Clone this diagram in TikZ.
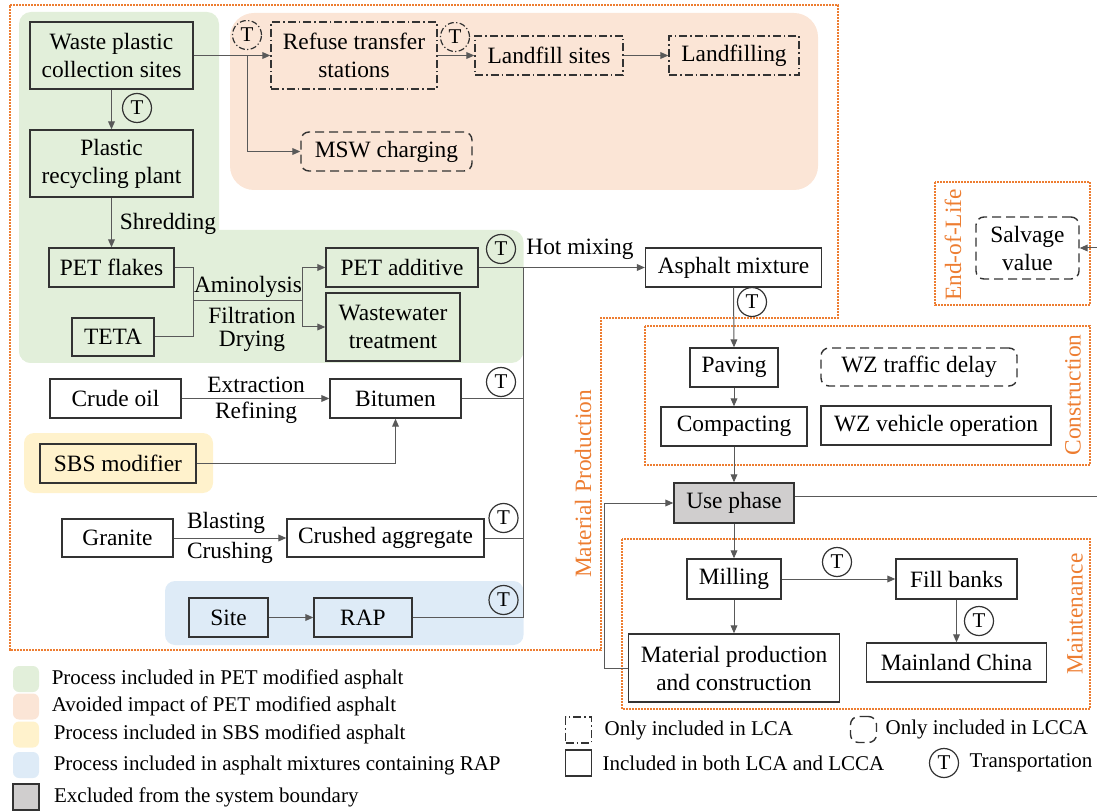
\documentclass[tikz,border=0pt]{standalone}
\usepackage{fontspec}
\setmainfont{Liberation Serif}
\usetikzlibrary{positioning,arrows.meta}
\definecolor{petgreen}{HTML}{E2EFDA}
\definecolor{avoidpink}{HTML}{FBE5D6}
\definecolor{sbsyellow}{HTML}{FFF2CC}
\definecolor{rapblue}{HTML}{DEEBF7}
\definecolor{exgray}{HTML}{D0CECE}
\definecolor{bound}{HTML}{ED7D31}
\tikzset{
  box/.style={draw=black!80, line width=0.7pt, inner sep=0pt, align=center},
  lcabox/.style={box, dash pattern=on 4pt off 1.5pt on 0.8pt off 1.5pt},
  lccabox/.style={box, rounded corners=4pt, dash pattern=on 4.5pt off 2.5pt},
  tc/.style={circle, draw=black!80, line width=0.6pt, minimum size=14.5pt, inner sep=0pt, font=\fontsize{10.5}{12}\selectfont},
  tlca/.style={tc, dash pattern=on 3pt off 1.2pt on 0.6pt off 1.2pt},
  conn/.style={draw=black!65, line width=0.5pt},
  bnd/.style={draw=bound, line width=1.1pt, dash pattern=on 0.9pt off 0.6pt},
  phase/.style={text=bound, rotate=90},
  legtext/.style={inner sep=0pt, font=\fontsize{10.5}{12}\selectfont},
  legsq/.style={minimum width=13pt, minimum height=13pt, inner sep=0pt}
}

\begin{document}
\begin{tikzpicture}[x=0.5pt, y=-0.5pt, >={Triangle[length=4pt,width=3.4pt]}, font=\fontsize{11.7}{14}\selectfont]
    \useasboundingbox (0,0) rectangle (1097,812);

    % coloured groups
    \fill[avoidpink, rounded corners=12pt] (230,13) rectangle (818,190);
    \fill[petgreen, rounded corners=6pt] (19,12) rectangle (219,363);
    \fill[petgreen, rounded corners=6pt] (19,230) rectangle (523.5,363);
    \fill[sbsyellow, rounded corners=5pt] (24,433) rectangle (213,493);
    \fill[rapblue, rounded corners=5pt] (165,581) rectangle (523.5,645);

    % stage boundaries
    \draw[bnd] (10,5) -- (838,5) -- (838,318) -- (601,318) -- (601,650) -- (10,650) -- cycle;
    \draw[bnd] (645,326) rectangle (1090,465);
    \draw[bnd] (622,539) rectangle (1090,709);
    \draw[bnd] (935,182) rectangle (1090,305);
    \node[phase] (lmat) at (583,484) {Material Production};
    \node[phase] (lcon) at (1073,395) {Construction};
    \node[phase] (lmnt) at (1075,614) {Maintenance};
    \node[phase] (leol) at (953,245) {End-of-Life};

    % PET route
    \node[box, minimum width=81.5pt, minimum height=33.5pt] (waste) at (111.5,55.5) {Waste plastic\\collection sites};
    \node[box, minimum width=81.5pt, minimum height=33.5pt] (plant) at (111.5,163.5) {Plastic\\recycling plant};
    \node[box, minimum width=62.5pt, minimum height=19.5pt] (flakes) at (111.5,267.5) {PET flakes};
    \node[box, minimum width=41pt, minimum height=19pt] (teta) at (113,337) {TETA};
    \node[box, minimum width=76pt, minimum height=19.5pt] (additive) at (402,267.5) {PET additive};
    \node[box, minimum width=67pt, minimum height=34pt] (water) at (393,327) {Wastewater\\treatment};

    % avoided landfill route
    \node[lcabox, minimum width=83pt, minimum height=33.5pt] (refuse) at (354,55.5) {Refuse transfer\\stations};
    \node[lcabox, minimum width=74pt, minimum height=19.5pt] (sites) at (549,55.5) {Landfill sites};
    \node[lcabox, minimum width=65pt, minimum height=19.5pt] (landfill) at (734,55.5) {Landfilling};
    \node[lccabox, minimum width=85.5pt, minimum height=19.5pt] (msw) at (386.5,151.5) {MSW charging};

    % other materials
    \node[box, minimum width=88pt, minimum height=19.5pt] (mix) at (733.5,267.5) {Asphalt mixture};
    \node[box, minimum width=65.5pt, minimum height=19.5pt] (crude) at (115.5,398.5) {Crude oil};
    \node[box, minimum width=65.5pt, minimum height=19.5pt] (bit) at (395.5,398.5) {Bitumen};
    \node[box, minimum width=78pt, minimum height=19.5pt] (sbs) at (118,463.5) {SBS modifier};
    \node[box, minimum width=55.5pt, minimum height=19pt] (gran) at (117.5,538) {Granite};
    \node[box, minimum width=98.5pt, minimum height=19pt] (agg) at (385.5,538) {Crushed aggregate};
    \node[box, minimum width=39.5pt, minimum height=19.5pt] (site) at (228.5,617.5) {Site};
    \node[box, minimum width=49pt, minimum height=19.5pt] (rap) at (363,617.5) {RAP};

    % construction, use, maintenance, end of life
    \node[box, minimum width=44pt, minimum height=19.5pt] (pave) at (734,367.5) {Paving};
    \node[lccabox, minimum width=98pt, minimum height=19pt] (delay) at (919,367) {WZ traffic delay};
    \node[box, minimum width=73pt, minimum height=19.5pt] (comp) at (734,426.5) {Compacting};
    \node[box, minimum width=115pt, minimum height=19.5pt] (veh) at (936,425.5) {WZ vehicle operation};
    \node[box, fill=exgray, minimum width=60pt, minimum height=20pt] (use) at (734,503) {Use phase};
    \node[box, minimum width=47pt, minimum height=20pt] (mill) at (734,579) {Milling};
    \node[box, minimum width=60.5pt, minimum height=20pt] (banks) at (956.5,579) {Fill banks};
    \node[box, minimum width=90pt, minimum height=19.5pt] (china) at (956.5,662.5) {Mainland China};
    \node[box, minimum width=105.5pt, minimum height=34pt] (mpc) at (734,668) {Material production\\and construction};
    \node[lccabox, minimum width=51.5pt, minimum height=31pt] (salv) at (1027.5,248) {Salvage\\value};

    % transportation marks
    \node[tc] (t1) at (137,108) {T};
    \node[tlca] (t2) at (247,35) {T};
    \node[tlca] (t3) at (455,37) {T};
    \node[tc] (t4) at (501,249) {T};
    \node[tc] (t5) at (501,382) {T};
    \node[tc] (t6) at (503.5,518) {T};
    \node[tc] (t7) at (503.5,600) {T};
    \node[tc] (t8) at (752,302) {T};
    \node[tc] (t9) at (837,562) {T};
    \node[tc] (t10) at (979,621) {T};

    % process labels
    \node (lshr) at (168,224) {Shredding};
    \node (lami) at (248,287) {Aminolysis};
    \node (lfil) at (252,315) {Filtration};
    \node (ldry) at (252,341) {Drying};
    \node (lhot) at (580,249) {Hot mixing};
    \node (lext) at (256,385) {Extraction};
    \node (lref) at (256,413) {Refining};
    \node (lbla) at (226,523) {Blasting};
    \node (lcru) at (230,553) {Crushing};

    \coordinate (amj) at (193,301);
    \coordinate (amk) at (302,301);
    \coordinate (br) at (247,55.5);
    \coordinate (col) at (523.5,267.5);
    \coordinate (colb) at (523.5,617.5);
    \coordinate (fb) at (604,668);
    \coordinate (eolr) at (1097,496);
    \coordinate (eols) at (1097,248);

    \draw[conn, ->] (waste) -- (plant);
    \draw[conn, ->] (plant) -- (flakes);
    \draw[conn] (flakes.east) -| (amj) -- (amk);
    \draw[conn] (teta.east) -| (amj);
    \draw[conn, ->] (amk) |- (additive.west);
    \draw[conn, ->] (amk) |- (water.west);
    \draw[conn, ->] (waste.east) -- (refuse.west);
    \draw[conn, ->] (br) |- (msw.west);
    \draw[conn, ->] (refuse) -- (sites);
    \draw[conn, ->] (sites) -- (landfill);
    \draw[conn, ->] (additive) -- (mix);
    \draw[conn] (col) -- (colb);
    \draw[conn, ->] (crude) -- (bit);
    \draw[conn] (bit.east) -- (bit.east -| col);
    \draw[conn, ->] (sbs.east) -| (bit.south);
    \draw[conn, ->] (gran) -- (agg);
    \draw[conn] (agg.east) -- (agg.east -| col);
    \draw[conn, ->] (site) -- (rap);
    \draw[conn] (rap.east) -- (colb);

    \draw[conn, ->] (mix.south) -- (pave.north);
    \draw[conn, ->] (pave) -- (comp);
    \draw[conn, ->] (comp) -- (use);
    \draw[conn, ->] (use) -- (mill);
    \draw[conn, ->] (mill) -- (mpc);
    \draw[conn, ->] (mill) -- (banks);
    \draw[conn, ->] (banks) -- (china);
    \draw[conn, ->] (mpc.west) -- (fb) |- (use.west);
    \draw[conn] (use.east |- eolr) -- (eolr);
    \draw[conn, ->] (eols) -- (salv.east);

    % legend
    \node[legsq, fill=petgreen, rounded corners=3pt] (sq1) at (26,679) {};
    \node[legsq, fill=avoidpink, rounded corners=3pt] (sq2) at (26,706.5) {};
    \node[legsq, fill=sbsyellow, rounded corners=3pt] (sq3) at (26,734.5) {};
    \node[legsq, fill=rapblue, rounded corners=3pt] (sq4) at (26,765) {};
    \node[legsq, fill=exgray, draw=black!80, line width=0.7pt] (sq5) at (26,797) {};
    \node[legtext, right=6pt of sq1] (lg1) {Process included in PET modified asphalt};
    \node[legtext, right=6pt of sq2] (lg2) {Avoided impact of PET modified asphalt};
    \node[legtext, right=7pt of sq3] (lg3) {Process included in SBS modified asphalt};
    \node[legtext, right=7pt of sq4] (lg4) {Process included in asphalt mixtures containing RAP};
    \node[legtext, right=7pt of sq5] (lg5) {Excluded from the system boundary};

    \node[legsq, lcabox] (sq6) at (578.5,730) {};
    \node[legsq, lccabox] (sq7) at (863.5,729.5) {};
    \node[legsq, box] (sq8) at (578.5,763) {};
    \node[tc] (sq9) at (944,763) {T};
    \node[legtext, right=6pt of sq6] (lg6) {Only included in LCA};
    \node[legtext, right=4pt of sq7] (lg7) {Only included in LCCA};
    \node[legtext, right=5pt of sq8] (lg8) {Included in both LCA and LCCA};
    \node[legtext, right=5pt of sq9] (lg9) {Transportation};
\end{tikzpicture}
\end{document}
